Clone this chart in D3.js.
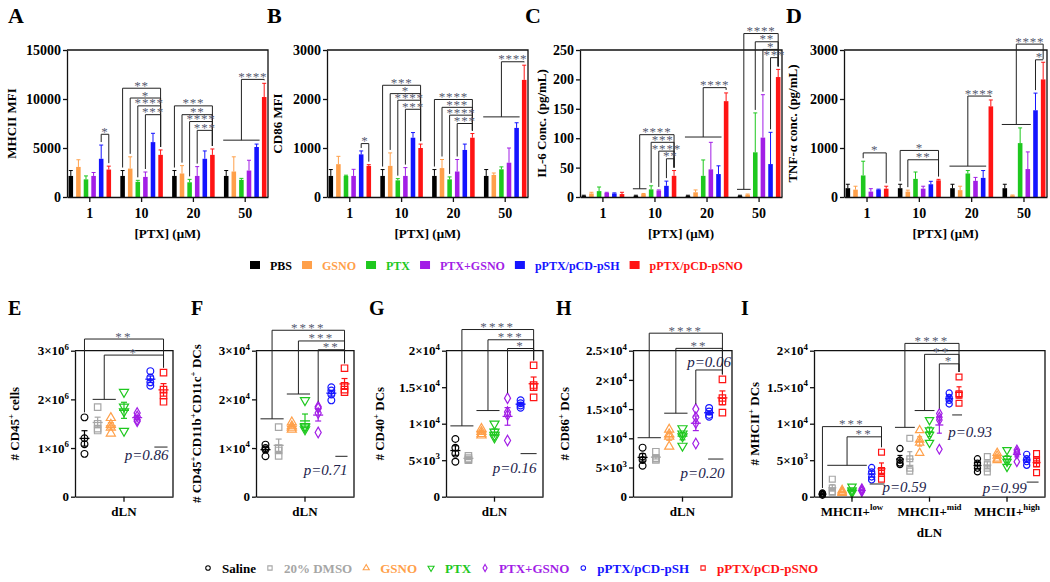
<!DOCTYPE html>
<html><head><meta charset="utf-8">
<script src="https://cdn.jsdelivr.net/npm/d3@7"></script>
<style>
body{margin:0;background:#fff}
svg{display:block}
svg text{font-family:"Liberation Serif","Times New Roman",serif}
</style></head><body>
<svg id="c" width="1050" height="582" font-family="Liberation Serif, Times New Roman, serif"></svg>
<script>
// ---------------- DATA ----------------
const doses = ["1","10","20","50"];
const treatments = ["PBS","GSNO","PTX","PTX+GSNO","pPTX/pCD-pSH","pPTX/pCD-pSNO"];
// rows = dose, cols = treatment
const mhciiMean = [[2150,3070,1800,2150,3900,2800],[2150,2900,1550,2050,5600,4300],[2150,2400,1500,2150,3900,4300],[2150,2600,1750,2700,5100,10200]];
const mhciiErr  = [[550,730,350,350,1400,350],[550,1200,150,500,900,500],[550,800,300,950,800,600],[550,1500,150,1050,300,1400]];
const cd86Mean  = [[430,670,430,430,870,635],[430,635,340,430,1210,1000],[430,590,360,520,960,1210],[430,450,565,700,1410,2390]];
const cd86Err   = [[130,160,15,135,70,25],[130,265,35,170,105,80],[130,175,50,245,120,85],[130,40,50,300,105,300]];
const il6Mean   = [[2,6,10,7,6,5],[2,5,13,11,19,36],[2,8,36,47,39,163],[2,4,76,101,56,204]];
const il6Err    = [[1,2,7,1,1,3],[1,1,6,1,8,9],[1,4,27,46,14,14],[1,1,67,73,54,13]];
const tnfMean   = [[180,150,440,110,150,170],[180,110,370,170,260,340],[180,140,480,330,390,1850],[180,30,1100,570,1770,2400]];
const tnfErr    = [[80,70,290,60,10,50],[80,30,140,50,60,20],[80,80,60,70,150,130],[80,10,310,350,350,350]];

const sigA = [{g:0,from:4,to:5,y:6400,t:"*"},
  {g:1,from:0,to:5,y:11100,t:"**"},{g:1,from:1,to:5,y:10100,t:"*"},{g:1,from:2,to:5,y:9300,t:"****"},{g:1,from:3,to:5,y:8400,t:"***"},
  {g:2,from:0,to:5,y:9300,t:"***"},{g:2,from:1,to:5,y:8400,t:"**"},{g:2,from:2,to:5,y:7700,t:"****"},{g:2,from:3,to:5,y:6800,t:"***"},
  {g:3,from:[0,4],base:5800,to:5,y:12000,t:"****"}];
const sigB = [{g:0,from:4,to:5,y:1090,t:"*"},
  {g:1,from:0,to:5,y:2280,t:"***"},{g:1,from:1,to:5,y:2110,t:"*"},{g:1,from:2,to:5,y:1975,t:"****"},{g:1,from:3,to:5,y:1790,t:"***"},
  {g:2,from:0,to:5,y:1990,t:"****"},{g:2,from:1,to:5,y:1830,t:"***"},{g:2,from:2,to:5,y:1670,t:"****"},{g:2,from:3,to:5,y:1500,t:"***"},
  {g:3,from:[0,4],base:1635,to:5,y:2760,t:"****"}];
const sigC = [{g:1,from:[0,1],base:14,to:5,y:106,t:"****"},{g:1,from:2,to:5,y:93,t:"***"},{g:1,from:3,to:5,y:78,t:"****"},{g:1,from:4,to:5,y:65,t:"**"},
  {g:2,from:[0,4],base:102,to:5,y:186,t:"****"},
  {g:3,from:[0,1],base:13,to:5,y:278,t:"****"},{g:3,from:2,to:5,y:264,t:"**"},{g:3,from:3,to:5,y:251,t:"*"},{g:3,from:4,to:5,y:237,t:"***"}];
const sigD = [{g:0,from:2,to:5,y:900,t:"*"},
  {g:1,from:0,to:5,y:950,t:"*"},{g:1,from:1,to:5,y:760,t:"**"},
  {g:2,from:[0,4],base:630,to:5,y:2060,t:"****"},
  {g:3,from:[0,3],base:1480,to:5,y:3120,t:"****"},{g:3,from:4,to:5,y:2800,t:"*"}];

const dotGroups = ["Saline","20% DMSO","GSNO","PTX","PTX+GSNO","pPTX/pCD-pSH","pPTX/pCD-pSNO"];
// E: # CD45+ cells (x10^6)
const cd45Cells = [[1.63,1.2,1.08,0.88],[1.84,1.5,1.4,1.36],[1.62,1.48,1.42,1.3],[2.15,1.85,1.75,1.35],[1.72,1.65,1.58,1.55],[2.58,2.45,2.35,2.28],[2.55,2.2,2.08,1.95]];
// F: # CD45+CD11b+CD11c+ DCs (x10^4)
const dcCells   = [[1.07,1.0,0.97,0.83],[1.43,1.0,0.95,0.84],[1.53,1.45,1.42,1.38],[1.98,1.45,1.42,1.38],[1.85,1.82,1.72,1.32],[2.25,2.18,2.1,1.98],[2.64,2.28,2.2,2.15]];
// G: # CD40+ DCs (x10^3)
const cd40DCs   = [[7.9,6.7,5.9,4.8],[5.6,5.3,5.1,5.0],[9.3,8.9,8.6,8.4],[10.0,8.9,8.4,8.1],[13.5,11.6,11.2,7.7],[13.2,12.8,12.5,12.2],[18.0,15.3,15.0,13.6]];
// H: # CD86+ DCs (x10^3)
const cd86DCs   = [[8.4,6.9,6.3,5.3],[7.7,6.6,6.3,6.5],[11.5,10.7,10.3,8.6],[11.7,10.8,10.3,8.7],[15.0,13.6,12.6,9.1],[15.2,14.6,14.0,13.7],[20.1,16.9,16.3,14.4]];
// I: # MHCII+ DCs (x10^3)
const mhcLow  = [[0.5,0.3,0.4,0.2],[2.4,1.2,0.6,0.7],[0.9,0.7,0.5,0.6],[1.4,0.9,0.7,0.5],[1.1,0.9,0.7,0.8],[4.0,3.4,2.7,2.3],[6.1,3.6,3.2,2.4]];
const mhcMid  = [[6.6,5.0,4.6,4.4],[8.0,5.2,3.9,3.5],[9.1,7.8,7.4,6.0],[10.5,9.1,8.5,7.4],[11.4,10.9,10.5,6.5],[14.2,13.6,13.2,12.7],[16.4,14.1,13.9,12.8]];
const mhcHigh = [[5.2,4.6,3.9,3.4],[5.5,4.5,3.9,3.4],[6.0,5.6,5.2,5.0],[6.4,5.2,4.8,4.1],[6.4,6.1,5.9,4.8],[5.8,5.2,4.8,4.3],[5.9,5.0,4.5,3.3]];
const mhcCats = ["MHCII+^{low}","MHCII+^{mid}","MHCII+^{high}"];

const sigE = [{c:0,from:0,to:6,y:3.24,t:"**"},{c:0,from:[1,2],base:2.0,to:6,y:2.91,t:"*"}];
const sigF = [{c:0,from:[0,1],base:1.6,to:6,y:3.42,t:"****"},{c:0,from:[2,3],base:2.11,to:6,y:3.2,t:"***"},{c:0,from:4,to:6,y:3.02,t:"**"}];
const sigG = [{c:0,from:[0,1],base:9.7,to:6,y:22.9,t:"****"},{c:0,from:[2,3],base:11.8,to:6,y:21.5,t:"***"},{c:0,from:4,to:6,y:20.3,t:"*"}];
const sigH = [{c:0,from:[0,1],base:10.1,to:6,y:28,t:"****"},{c:0,from:[2,3],base:14.3,to:6,y:25.4,t:"**"},{c:0,from:4,to:6,y:21.7,t:"p=0.06"}];
const sigI = [{c:0,from:0,to:6,y:9.6,t:"***"},{c:0,from:[1,4],base:4.3,to:6,y:8.2,t:"**"},
  {c:1,from:[0,1],base:9.5,to:6,y:21,t:"****"},{c:1,from:[2,3],base:11.8,to:6,y:19.5,t:"**"},{c:1,from:4,to:6,y:18.2,t:"*"}];

// ---------------- STYLE ----------------
const SERIF = "Liberation Serif, Times New Roman, serif";
const barColors = ["#000000","#ffa04a","#1ec81e","#a21ee6","#1414ff","#ff1414"];
const dotColors = ["#000000","#a6a6a6","#ffa04a","#1ec81e","#a21ee6","#1414ff","#ff1414"];
const dotShapes = ["circle","square","tri","tridown","diamond","circle","square"];
const STAR = "#555a70", PCOL = "#22224a";
const svg = d3.select("#c");

function rich(sel, str, size){
  const re = /\^(\{[^}]*\}|.)/g; let last=0, m; const parts=[];
  while((m=re.exec(str))){ if(m.index>last) parts.push({t:str.slice(last,m.index)}); let s=m[1]; if(s[0]==="{") s=s.slice(1,-1); parts.push({t:s,sup:true}); last=re.lastIndex; }
  if(last<str.length) parts.push({t:str.slice(last)});
  let up=false;
  parts.forEach(p=>{ const ts=sel.append("tspan").text(p.t);
    if(p.sup){ ts.attr("font-size",size*0.68); if(!up){ts.attr("dy",-size*0.42); up=true;} }
    else if(up){ ts.attr("dy",size*0.42); up=false; } });
}
function symPath(shape, s){
  if(shape==="circle") return d3.symbol(d3.symbolCircle, s)();
  if(shape==="square") return d3.symbol(d3.symbolSquare, s*1.15)();
  if(shape==="diamond") return d3.symbol(d3.symbolDiamond, s*0.9)();
  return d3.symbol(d3.symbolTriangle, s)();
}
function drawSym(g, shape, x, y, s, col, sw){
  g.append("path").attr("d", symPath(shape,s))
    .attr("transform", `translate(${x},${y})` + (shape==="tridown" ? " rotate(180)" : ""))
    .attr("fill","none").attr("stroke",col).attr("stroke-width",sw);
}
function txt(parent){ return parent.append("text").attr("font-family",SERIF); }
function letter(t,x,y,size){ txt(svg).attr("x",x).attr("y",y).attr("font-size",size).attr("font-weight","bold").text(t); }
function yTitle(str,cx,cy,size){ const t=txt(svg).attr("transform",`translate(${cx},${cy}) rotate(-90)`).attr("text-anchor","middle").attr("font-size",size).attr("font-weight","bold"); rich(t,str,size); }
function starLabel(g,t,x,y,big){
  if(t.startsWith("p=")){ txt(g).attr("x",x).attr("y",y-3).attr("text-anchor","middle").attr("font-size",15).attr("font-style","italic").attr("fill",PCOL).text(t); return; }
  txt(g).attr("x",x).attr("y",y+1.5).attr("text-anchor","middle").attr("font-size",13).attr("letter-spacing",big?2.2:0.8).attr("fill",STAR).text(t);
}

// ---------------- BAR PANELS ----------------
function barPanel(c){
  const g = svg.append("g");
  const xg = d3.scaleBand().domain(doses).range([c.x0,c.x1]).paddingInner(0.12).paddingOuter(0);
  const xb = d3.scaleBand().domain(d3.range(treatments.length)).range([0,xg.bandwidth()]).paddingInner(0.4).paddingOuter(0.2);
  const y = d3.scaleLinear().domain([0,c.max]).range([197,50]);
  const cx = (gi,i)=> xg(doses[gi]) + xb(i) + xb.bandwidth()/2;
  c.mean.forEach((row,gi)=>row.forEach((v,i)=>{
    const x = xg(doses[gi]) + xb(i), col = barColors[i], xc = x + xb.bandwidth()/2;
    g.append("rect").attr("x",x).attr("y",y(v)).attr("width",xb.bandwidth()).attr("height",197-y(v)).attr("fill",col);
    const ye = y(v + c.err[gi][i]);
    g.append("line").attr("x1",xc).attr("x2",xc).attr("y1",y(v)).attr("y2",ye).attr("stroke",col).attr("stroke-width",1);
    g.append("line").attr("x1",xc-2).attr("x2",xc+2).attr("y1",ye).attr("y2",ye).attr("stroke",col).attr("stroke-width",1);
  }));
  const ya = g.append("g").attr("transform",`translate(${c.x0},0)`).call(d3.axisLeft(y).tickValues(c.ticks).tickSize(4).tickSizeOuter(0).tickFormat(d3.format("d")));
  ya.attr("font-family",SERIF).attr("font-size",14);
  ya.selectAll("text").attr("font-weight","bold").attr("font-family",SERIF).attr("x",-6);
  const xa = g.append("g").attr("transform","translate(0,197)").call(d3.axisBottom(xg).tickSize(5).tickSizeOuter(0));
  xa.attr("font-family",SERIF).attr("font-size",14);
  xa.selectAll("text").attr("font-weight","bold").attr("font-family",SERIF).attr("y",16).attr("dy",5);
  g.selectAll(".domain, .tick line").attr("stroke","#111").attr("stroke-width",1.3);
  g.append("path").attr("d",`M${c.x0},50H${c.x1}V197`).attr("fill","none").attr("stroke","#111").attr("stroke-width",1.3);
  const topOf = (gi,i)=> y(c.mean[gi][i] + c.err[gi][i]) - 3;
  c.sig.forEach(s=>{
    const ly = y(s.y), rx = cx(s.g,s.to);
    let lx, lb;
    if(Array.isArray(s.from)){
      const a = cx(s.g,s.from[0])-3, b = cx(s.g,s.from[1])+3, by = y(s.base);
      g.append("line").attr("x1",a).attr("x2",b).attr("y1",by).attr("y2",by).attr("stroke","#222").attr("stroke-width",1);
      lx = (a+b)/2; lb = by;
    } else { lx = cx(s.g,s.from); lb = topOf(s.g,s.from); }
    g.append("path").attr("d",`M${lx},${lb}V${ly}H${rx}V${Math.max(ly,topOf(s.g,s.to))}`).attr("fill","none").attr("stroke","#222").attr("stroke-width",1);
    starLabel(g,s.t,(lx+rx)/2,ly,false);
  });
  yTitle(c.title, c.tx, 123.5, 13);
  txt(svg).attr("x",(c.x0+c.x1)/2).attr("y",238).attr("text-anchor","middle").attr("font-size",13).attr("font-weight","bold").text("[PTX] (μM)");
  letter(c.letter, c.lx, 23, 22);
}

barPanel({letter:"A",lx:8,x0:67,x1:268,max:15000,ticks:[0,5000,10000,15000],mean:mhciiMean,err:mhciiErr,sig:sigA,title:"MHCII MFI",tx:16});
barPanel({letter:"B",lx:267,x0:327,x1:528,max:3000,ticks:[0,1000,2000,3000],mean:cd86Mean,err:cd86Err,sig:sigB,title:"CD86 MFI",tx:282});
barPanel({letter:"C",lx:525,x0:580,x1:782,max:250,ticks:[0,50,100,150,200,250],mean:il6Mean,err:il6Err,sig:sigC,title:"IL-6 Conc. (pg/mL)",tx:546});
barPanel({letter:"D",lx:786,x0:844,x1:1047,max:3000,ticks:[0,1000,2000,3000],mean:tnfMean,err:tnfErr,sig:sigD,title:"TNF-α conc. (pg/mL)",tx:797});

// top legend
{
  let x = 250;
  treatments.forEach((t,i)=>{
    svg.append("rect").attr("x",x).attr("y",261).attr("width",10).attr("height",8).attr("fill",barColors[i]);
    const tx = txt(svg).attr("x",x+20).attr("y",269.5).attr("font-size",12).attr("font-weight","bold").attr("fill",barColors[i]).text(t);
    x = x + 20 + tx.node().getComputedTextLength() + 10;
  });
}

// ---------------- DOT PANELS ----------------
function dotPanel(c){
  const g = svg.append("g"), yB = 496.7, yT = 350.7;
  const xc = d3.scaleBand().domain(c.cats).range([c.x0,c.x1]).paddingInner(c.pi).paddingOuter(c.po);
  const xp = d3.scalePoint().domain(d3.range(dotGroups.length)).range([0,xc.bandwidth()]).padding(c.pp);
  const y = d3.scaleLinear().domain([0,c.max]).range([yB,yT]);
  const px = (ci,i)=> xc(c.cats[ci]) + xp(i);
  c.data.forEach((grp,ci)=>grp.forEach((vals,i)=>{
    const x = px(ci,i), col = dotColors[i];
    const m = d3.mean(vals), se = d3.deviation(vals)/Math.sqrt(vals.length);
    vals.forEach(v=>drawSym(g,dotShapes[i],x,y(v),c.sym,col,1.2));
    g.append("line").attr("x1",x-c.mw).attr("x2",x+c.mw).attr("y1",y(m)).attr("y2",y(m)).attr("stroke",col).attr("stroke-width",1.3);
    g.append("line").attr("x1",x).attr("x2",x).attr("y1",y(m-se)).attr("y2",y(m+se)).attr("stroke",col).attr("stroke-width",1.2);
    [m-se,m+se].forEach(v=>g.append("line").attr("x1",x-c.cw).attr("x2",x+c.cw).attr("y1",y(v)).attr("y2",y(v)).attr("stroke",col).attr("stroke-width",1.2));
  }));
  const ya = g.append("g").attr("transform",`translate(${c.x0},0)`).call(d3.axisLeft(y).tickValues(c.ticks).tickSize(4).tickSizeOuter(0).tickFormat(()=>""));
  ya.attr("font-family",SERIF).attr("font-size",13);
  ya.selectAll(".tick text").each(function(d,i){ const t=d3.select(this).attr("font-weight","bold").attr("font-family",SERIF).attr("x",-6); t.text(null); rich(t,c.tickLabels[i],13); });
  const xa = g.append("g").attr("transform",`translate(0,${yB})`).call(d3.axisBottom(xc).tickSize(5).tickSizeOuter(0).tickFormat(()=>""));
  xa.attr("font-family",SERIF).attr("font-size",13);
  xa.selectAll(".tick text").each(function(d,i){ const t=d3.select(this).attr("font-weight","bold").attr("font-family",SERIF).attr("y",14).attr("dy",5); t.text(null); rich(t,c.cats[i],13); });
  g.selectAll(".domain, .tick line").attr("stroke","#111").attr("stroke-width",1.3);
  g.append("path").attr("d",`M${c.x0},${yT}H${c.x1}V${yB}`).attr("fill","none").attr("stroke","#111").attr("stroke-width",1.3);
  if(c.xTitle) txt(svg).attr("x",(c.x0+c.x1)/2).attr("y",537).attr("text-anchor","middle").attr("font-size",13).attr("font-weight","bold").text(c.xTitle);
  const topOf = (ci,i)=> y(d3.max(c.data[ci][i])) - 5;
  c.sig.forEach(s=>{
    const ly = y(s.y), rx = px(s.c,s.to);
    let lx, lb;
    if(Array.isArray(s.from)){
      const a = px(s.c,s.from[0])-5, b = px(s.c,s.from[1])+5, by = y(s.base);
      g.append("line").attr("x1",a).attr("x2",b).attr("y1",by).attr("y2",by).attr("stroke","#222").attr("stroke-width",1);
      lx = (a+b)/2; lb = by;
    } else { lx = px(s.c,s.from); lb = topOf(s.c,s.from); }
    g.append("path").attr("d",`M${lx},${lb}V${ly}H${rx}V${Math.max(ly,topOf(s.c,s.to))}`).attr("fill","none").attr("stroke","#222").attr("stroke-width",1);
    starLabel(g,s.t,(lx+rx)/2,ly,true);
  });
  (c.notes||[]).forEach(n=>{
    txt(g).attr("x",px(n.c,n.i)+n.dx).attr("y",y(n.v)).attr("text-anchor",n.a).attr("font-size",15).attr("font-style","italic").attr("fill",PCOL).text(n.t);
    g.append("line").attr("x1",px(n.c,n.l[0])+n.l[1]).attr("x2",px(n.c,n.l[2])+n.l[3]).attr("y1",y(n.l[4])).attr("y2",y(n.l[4])).attr("stroke","#222").attr("stroke-width",1);
  });
  yTitle(c.title, c.tx, (yT+yB)/2, 13);
  letter(c.letter, c.lx, 315, 20);
}
const single = {cats:["dLN"],pi:0,po:0,pp:0.72,sym:36,mw:5,cw:3};
dotPanel(Object.assign({},single,{letter:"E",lx:8,x0:75,x1:173,max:3,ticks:[0,1,2,3],tickLabels:["0","1×10^6","2×10^6","3×10^6"],data:[cd45Cells],sig:sigE,title:"# CD45^+ cells",tx:19,
  notes:[{t:"p=0.86",c:0,i:6,dx:5,a:"end",v:0.75,l:[5,4,6,4,1.02]}]}));
dotPanel(Object.assign({},single,{letter:"F",lx:191,x0:256,x1:354,max:3,ticks:[0,1,2,3],tickLabels:["0","1×10^4","2×10^4","3×10^4"],data:[dcCells],sig:sigF,title:"# CD45^+CD11b^+CD11c^+ DCs",tx:201,
  notes:[{t:"p=0.71",c:0,i:6,dx:3,a:"end",v:0.436,l:[5,4,6,3,0.83]}]}));
dotPanel(Object.assign({},single,{letter:"G",lx:369,x0:446,x1:543,max:20,ticks:[0,5,10,15,20],tickLabels:["0","5×10^3","1×10^4","1.5×10^4","2×10^4"],data:[cd40DCs],sig:sigG,title:"# CD40^+ DCs",tx:384,
  notes:[{t:"p=0.16",c:0,i:6,dx:3,a:"end",v:3.3,l:[5,0,6,3,5.9]}]}));
dotPanel(Object.assign({},single,{letter:"H",lx:556,x0:633,x1:732,max:25,ticks:[0,5,10,15,20,25],tickLabels:["0","5×10^3","1×10^4","1.5×10^4","2×10^4","2.5×10^4"],data:[cd86DCs],sig:sigH,title:"# CD86^+ DCs",tx:569,
  notes:[{t:"p=0.20",c:0,i:6,dx:2,a:"end",v:3.2,l:[5,-1,6,1,6.45]}]}));
dotPanel({letter:"I",lx:741,x0:814,x1:1045,max:20,ticks:[0,5,10,15,20],tickLabels:["0","5×10^3","1×10^4","1.5×10^4","2×10^4"],
  cats:mhcCats,pi:0.2,po:0.09,pp:0.15,sym:30,mw:4,cw:2.5,data:[mhcLow,mhcMid,mhcHigh],sig:sigI,title:"# MHCII^+ DCs",tx:759,xTitle:"dLN",
  notes:[{t:"p=0.93",c:1,i:5,dx:-1,a:"start",v:8.2,l:[5,3,6,3,11.2]},{t:"p=0.59",c:0,i:6,dx:1,a:"start",v:0.64,l:[5,-2,6,3,1.74]},{t:"p=0.99",c:2,i:5,dx:0,a:"end",v:0.5,l:[5,0,6,2,2.0]}]});

// bottom legend
{
  let x = 208;
  dotGroups.forEach((t,i)=>{
    drawSym(svg,dotShapes[i],x,568,16,dotColors[i],1.1);
    const tx = txt(svg).attr("x",x+14).attr("y",572.5).attr("font-size",13).attr("font-weight","bold").attr("fill",dotColors[i]).text(t);
    x = x + 14 + tx.node().getComputedTextLength() + 14;
  });
}
</script>
</body></html>
